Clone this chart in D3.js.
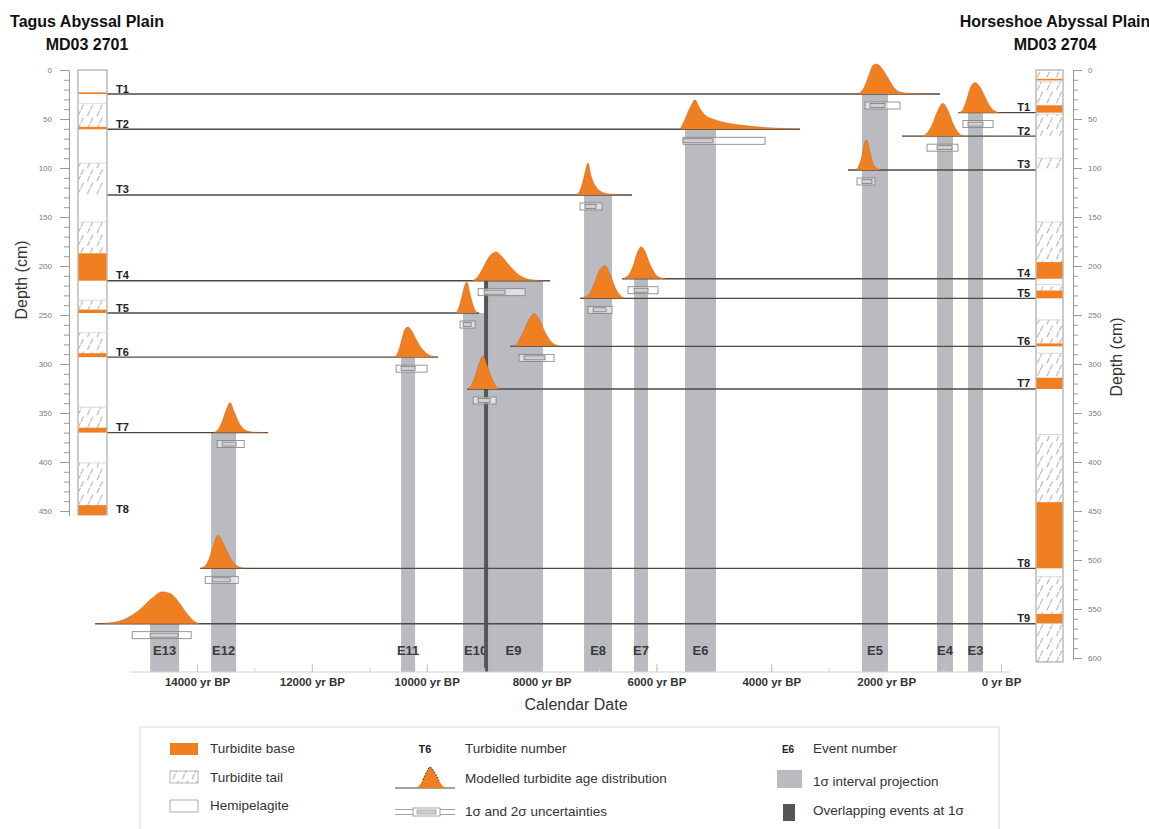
<!DOCTYPE html>
<html>
<head>
<meta charset="utf-8">
<script src="https://cdn.jsdelivr.net/npm/d3@7"></script>
<style>
  body { margin: 0; background: #fff; }
  svg { display: block; }
  text { font-family: "Liberation Sans", Arial, Helvetica, sans-serif; }
</style>
</head>
<body>
<svg id="chart" width="1149" height="829"></svg>
<script>
// ---------------- data ----------------
// Calendar age axis (yr BP)
const xTicks = [14000, 12000, 10000, 8000, 6000, 4000, 2000, 0];
const xTickLabels = ["14000 yr BP", "12000 yr BP", "10000 yr BP", "8000 yr BP",
                     "6000 yr BP", "4000 yr BP", "2000 yr BP", "0 yr BP"];

// Depth axes (cm)
const tagusDepthTicks = [0, 50, 100, 150, 200, 250, 300, 350, 400, 450];
const horseshoeDepthTicks = [0, 50, 100, 150, 200, 250, 300, 350, 400, 450, 500, 550, 600];

// Core logs: depth intervals (cm) of turbidite tails and bases
const tagusLayers = [
  { name: "T1", tail: null,          base: [22.8, 24.5] },
  { name: "T2", tail: [34, 58],      base: [58, 60.5] },
  { name: "T3", tail: [95, 127.5],   base: null },
  { name: "T4", tail: [155, 187],    base: [187, 215] },
  { name: "T5", tail: [235, 244.5],  base: [244.5, 248] },
  { name: "T6", tail: [268, 289],    base: [289, 293] },
  { name: "T7", tail: [344, 365],    base: [365, 370] },
  { name: "T8", tail: [401, 444],    base: [444, 454] }
];
const tagusCoreLength = 454;

const horseshoeLayers = [
  { name: "",   tail: [0, 9],        base: [9, 10] },
  { name: "T1", tail: [12, 36],      base: [36, 43.5] },
  { name: "T2", tail: [45, 67.5],    base: null },
  { name: "T3", tail: [90, 102],     base: null },
  { name: "T4", tail: [155, 196],    base: [196, 213] },
  { name: "T5", tail: [219, 225],    base: [225, 233] },
  { name: "T6", tail: [255, 279],    base: [279, 282] },
  { name: "T7", tail: [289, 314],    base: [314, 325.5] },
  { name: "T8", tail: [372, 441],    base: [441, 508.5] },
  { name: "T9", tail: [517, 555],    base: [555, 565] },
  { name: "",   tail: [565, 604],    base: null }
];
const horseshoeCoreLength = 604;

// Events and their 1-sigma age interval (yr BP, [young, old])
const eventNames = ["E3", "E4", "E5", "E6", "E7", "E8", "E9", "E10", "E11", "E12", "E13"];
const eventOneSigma = [
  [313, 575], [836, 1114], [1967, 2420], [4962, 5502], [6146, 6389], [6772, 7260],
  [7974, 9001], [8932, 9367], [10202, 10446], [13319, 13754], [14311, 14816]
];
const overlappingPair = ["E9", "E10"];

// Modelled turbidite age distributions: [age yr BP, relative density]
const ageModels = [
  { event: "E3", core: "right", turbidite: "T1", sigma1: [313, 575], sigma2: [139, 662],
    density: [[17,0],[104,0.05],[192,0.2],[279,0.5],[366,0.8],[453,0.94],[540,0.75],[609,0.35],[679,0.05],[749,0]] },
  { event: "E4", core: "right", turbidite: "T2", sigma1: [853, 1114], sigma2: [749, 1288],
    density: [[644,0],[749,0.12],[836,0.4],[923,0.8],[1010,1.03],[1114,0.75],[1201,0.35],[1288,0.1],[1375,0],[1724,0]] },
  { event: "E5", core: "left", turbidite: "T1", sigma1: [2020, 2281], sigma2: [1758, 2368],
    density: [[1062,0],[1584,0.02],[1758,0.06],[1863,0.2],[1967,0.5],[2072,0.8],[2159,0.94],[2228,0.9],[2298,0.6],[2385,0.2],[2490,0]] },
  { event: "E5", core: "right", turbidite: "T3", sigma1: [2246, 2420], sigma2: [2194, 2507],
    density: [[2072,0],[2159,0.05],[2228,0.2],[2281,0.55],[2333,0.94],[2368,0.9],[2420,0.45],[2472,0.15],[2542,0],[2664,0]] },
  { event: "E6", core: "left", turbidite: "T2", sigma1: [5014, 5536], sigma2: [4109, 5536],
    density: [[3499,0],[3674,0.015],[4022,0.05],[4370,0.1],[4718,0.18],[4979,0.3],[5153,0.45],[5258,0.7],[5327,0.92],[5380,0.8],[5449,0.55],[5519,0.25],[5589,0]] },
  { event: "E7", core: "right", turbidite: "T4", sigma1: [6146, 6389], sigma2: [5972, 6494],
    density: [[5798,0],[5902,0.02],[6006,0.12],[6111,0.45],[6198,0.85],[6268,1.0],[6337,0.8],[6407,0.4],[6494,0.1],[6598,0]] },
  { event: "E8", core: "left", turbidite: "T3", sigma1: [7051, 7243], sigma2: [6947, 7330],
    density: [[6424,0],[6860,0.04],[6981,0.12],[7068,0.3],[7138,0.6],[7190,1.0],[7225,0.85],[7277,0.45],[7330,0.15],[7399,0]] },
  { event: "E8", core: "right", turbidite: "T5", sigma1: [6877, 7103], sigma2: [6772, 7190],
    density: [[6546,0],[6633,0.1],[6720,0.35],[6807,0.75],[6894,1.03],[6999,0.85],[7086,0.45],[7190,0.1],[7330,0]] },
  { event: "E9", core: "left", turbidite: "T4", sigma1: [8635, 9001], sigma2: [8287, 9105],
    density: [[7852,0],[8113,0.02],[8270,0.07],[8409,0.2],[8548,0.45],[8688,0.75],[8792,0.9],[8862,0.85],[8949,0.65],[9036,0.35],[9123,0.1],[9210,0]] },
  { event: "E9", core: "right", turbidite: "T6", sigma1: [7939, 8305], sigma2: [7782, 8392],
    density: [[7643,0],[7730,0.03],[7835,0.15],[7939,0.45],[8043,0.85],[8130,1.03],[8200,0.9],[8270,0.65],[8357,0.3],[8444,0.05],[8548,0]] },
  { event: "E10", core: "left", turbidite: "T5", sigma1: [9227, 9367], sigma2: [9158, 9419],
    density: [[9088,0],[9140,0.05],[9192,0.25],[9245,0.6],[9297,0.97],[9332,0.9],[9384,0.55],[9436,0.2],[9488,0]] },
  { event: "E10", core: "right", turbidite: "T7", sigma1: [8897, 9105], sigma2: [8792, 9192],
    density: [[8722,0],[8809,0.12],[8879,0.4],[8949,0.75],[9018,1.03],[9088,0.8],[9158,0.4],[9227,0.1],[9297,0]] },
  { event: "E11", core: "left", turbidite: "T6", sigma1: [10202, 10446], sigma2: [9993, 10533],
    density: [[9802,0],[9941,0.05],[10063,0.22],[10167,0.5],[10254,0.8],[10324,0.94],[10376,0.88],[10429,0.6],[10481,0.25],[10550,0]] },
  { event: "E12", core: "left", turbidite: "T7", sigma1: [13319, 13562], sigma2: [13179, 13649],
    density: [[12762,0],[13040,0.02],[13162,0.08],[13266,0.3],[13353,0.65],[13423,0.94],[13493,0.7],[13562,0.35],[13632,0.1],[13719,0]] },
  { event: "E12", core: "right", turbidite: "T8", sigma1: [13423, 13736], sigma2: [13284, 13858],
    density: [[13145,0],[13249,0.03],[13353,0.15],[13458,0.45],[13545,0.8],[13632,1.03],[13719,0.7],[13789,0.3],[13858,0.08],[13945,0]] },
  { event: "E13", core: "right", turbidite: "T9", sigma1: [14328, 14816], sigma2: [14102, 15129],
    density: [[13945,0],[14050,0.08],[14189,0.35],[14328,0.7],[14468,0.95],[14607,1.0],[14781,0.8],[14990,0.45],[15251,0.15],[15512,0.03],[15773,0]] }
];

// Legend texts
const legendCol1 = ["Turbidite base", "Turbidite tail", "Hemipelagite"];
const legendCol2 = ["Turbidite number", "Modelled turbidite age distribution", "1\u03c3 and 2\u03c3 uncertainties"];
const legendCol3 = ["Event number", "1\u03c3 interval projection", "Overlapping events at 1\u03c3"];

// ---------------- drawing ----------------
const svg = d3.select("#chart");

const x = d3.scaleLinear().domain([0, 14000]).range([1001, 197]);
const y = d3.scaleLinear().domain([0, 600]).range([70, 658]);
const h = d3.scaleLinear().domain([0, 1]).range([0, 32]);

const AXIS_Y = 672;
const ORANGE = "#f07f22";
const BAR = "#b9bbc1";
const LINE = "#4a4a4a";

const cores = {
  left:  { x0: 78,   x1: 107,  length: tagusCoreLength,     layers: tagusLayers },
  right: { x0: 1036, x1: 1063, length: horseshoeCoreLength, layers: horseshoeLayers }
};

function markerDepth(layer) { return (layer.base || layer.tail)[1]; }
function turbiditeDepth(core, name) {
  return markerDepth(cores[core].layers.find(l => l.name === name));
}
function baseY(m) { return y(turbiditeDepth(m.core, m.turbidite)); }

// Tail hatch pattern
const defs = svg.append("defs");
const pat = defs.append("pattern").attr("id", "tailHatch")
  .attr("patternUnits", "userSpaceOnUse").attr("width", 9.5).attr("height", 13);
pat.append("path").attr("d", "M2.0,12.2 L4.3,6.8 M5.0,5.8 L7.3,0.6")
  .attr("stroke", "#959595").attr("stroke-width", 0.9).attr("fill", "none");

// --- 1 sigma interval projections (event bars) ---
const gBars = svg.append("g");
eventNames.forEach((name, i) => {
  const iv = eventOneSigma[i];
  const top = d3.min(ageModels.filter(m => m.event === name), baseY);
  gBars.append("rect")
    .attr("x", x(iv[1])).attr("width", x(iv[0]) - x(iv[1]))
    .attr("y", top).attr("height", AXIS_Y - top)
    .attr("fill", BAR);
  gBars.append("text")
    .attr("x", (x(iv[0]) + x(iv[1])) / 2).attr("y", 655)
    .attr("text-anchor", "middle").attr("font-size", 13).attr("font-weight", "bold")
    .attr("fill", "#3a3a3a").text(name);
});

// overlapping events at 1 sigma
{
  const a = eventOneSigma[eventNames.indexOf(overlappingPair[0])];
  const b = eventOneSigma[eventNames.indexOf(overlappingPair[1])];
  const young = Math.max(a[0], b[0]), old = Math.min(a[1], b[1]);
  const top = d3.min(ageModels.filter(m => overlappingPair.includes(m.event)), baseY);
  gBars.append("rect")
    .attr("x", x(old)).attr("width", x(young) - x(old))
    .attr("y", top).attr("height", AXIS_Y - top)
    .attr("fill", "#555");
}

// --- correlation lines from the cores to the age models ---
const gLines = svg.append("g");
ageModels.forEach(m => {
  const yy = baseY(m);
  const ages = m.density.map(d => d[0]);
  let x1, x2;
  if (m.core === "left") { x1 = cores.left.x1; x2 = x(d3.min(ages)); }
  else { x1 = x(d3.max(ages)); x2 = cores.right.x0; }
  gLines.append("line").attr("x1", x1).attr("x2", x2).attr("y1", yy).attr("y2", yy)
    .attr("stroke", LINE).attr("stroke-width", 1.4);
});

// --- modelled age distributions ---
const gDist = svg.append("g");
ageModels.forEach(m => {
  const yy = baseY(m);
  const pts = m.density.slice().sort((a, b) => x(a[0]) - x(b[0]));
  const area = d3.area().x(d => x(d[0])).y0(yy).y1(d => yy - h(d[1])).curve(d3.curveMonotoneX);
  const top = d3.line().x(d => x(d[0])).y(d => yy - h(d[1])).curve(d3.curveMonotoneX);
  gDist.append("path").attr("d", area(pts)).attr("fill", ORANGE);
  gDist.append("path").attr("d", top(pts)).attr("fill", "none")
    .attr("stroke", "#b9561a").attr("stroke-width", 0.6).attr("stroke-opacity", 0.6);
});

// --- 1 sigma and 2 sigma uncertainty boxes ---
const gBox = svg.append("g");
ageModels.forEach(m => {
  const yy = baseY(m) + 8;
  gBox.append("rect")
    .attr("x", x(m.sigma2[1])).attr("width", x(m.sigma2[0]) - x(m.sigma2[1]))
    .attr("y", yy).attr("height", 7)
    .attr("fill", "#fff").attr("fill-opacity", 0.55)
    .attr("stroke", "#7d7d7d").attr("stroke-width", 0.8);
  gBox.append("rect")
    .attr("x", x(m.sigma1[1])).attr("width", x(m.sigma1[0]) - x(m.sigma1[1]))
    .attr("y", yy + 1.5).attr("height", 4)
    .attr("fill", "#cfcfd2").attr("stroke", "#6f6f6f").attr("stroke-width", 0.7);
});

// --- core logs ---
function drawCore(c, side) {
  const g = svg.append("g");
  g.append("rect").attr("x", c.x0).attr("y", y(0))
    .attr("width", c.x1 - c.x0).attr("height", y(c.length) - y(0))
    .attr("fill", "#fff").attr("stroke", "#b0b0b0").attr("stroke-width", 1.3);
  c.layers.forEach(l => {
    if (l.tail) {
      g.append("rect").attr("x", c.x0 + 1).attr("width", c.x1 - c.x0 - 2)
        .attr("y", y(l.tail[0])).attr("height", y(l.tail[1]) - y(l.tail[0]))
        .attr("fill", "url(#tailHatch)");
      g.append("line").attr("x1", c.x0).attr("x2", c.x1)
        .attr("y1", y(l.tail[0])).attr("y2", y(l.tail[0]))
        .attr("stroke", "#d2d2d2").attr("stroke-width", 0.8);
    }
    if (l.base) {
      g.append("rect").attr("x", c.x0 + 0.5).attr("width", c.x1 - c.x0 - 1)
        .attr("y", y(l.base[0])).attr("height", Math.max(1.6, y(l.base[1]) - y(l.base[0])))
        .attr("fill", ORANGE);
    }
    if (l.name) {
      const d = markerDepth(l);
      g.append("text")
        .attr("x", side === "left" ? c.x1 + 9 : c.x0 - 6)
        .attr("y", y(d) - 1.5)
        .attr("text-anchor", side === "left" ? "start" : "end")
        .attr("font-size", 11).attr("font-weight", "bold").attr("fill", "#222")
        .text(l.name);
    }
  });
}
drawCore(cores.left, "left");
drawCore(cores.right, "right");

// --- depth axes ---
function depthAxis(xPos, ticks, length, side) {
  const s = y.copy().domain([0, length]).range([y(0), y(length)]);
  const g = svg.append("g").attr("transform", `translate(${xPos},0)`);
  const major = (side === "left" ? d3.axisLeft(s) : d3.axisRight(s))
    .tickValues(ticks).tickSize(9).tickSizeOuter(0).tickPadding(side === "left" ? 8 : 6);
  g.call(major);
  const minor = (side === "left" ? d3.axisLeft(s) : d3.axisRight(s))
    .tickValues(d3.range(0, length + 0.1, 10)).tickSize(5).tickSizeOuter(0).tickFormat("");
  g.append("g").call(minor).select(".domain").remove();
  g.selectAll("path.domain").attr("stroke", "#9a9a9a");
  g.selectAll("line").attr("stroke", "#9a9a9a");
  g.selectAll("text").attr("font-size", 8).attr("fill", "#7a7a7a")
    .style("font-family", "'Liberation Sans', Arial, sans-serif");
}
depthAxis(69, tagusDepthTicks, 455, "left");
depthAxis(1073, horseshoeDepthTicks, 602, "right");

svg.append("text").attr("transform", "translate(27,280) rotate(-90)")
  .attr("text-anchor", "middle").attr("font-size", 16).attr("fill", "#333").text("Depth (cm)");
svg.append("text").attr("transform", "translate(1122,357) rotate(-90)")
  .attr("text-anchor", "middle").attr("font-size", 16).attr("fill", "#333").text("Depth (cm)");

// --- calendar age axis ---
svg.append("line").attr("x1", 130).attr("x2", 1010).attr("y1", AXIS_Y).attr("y2", AXIS_Y)
  .attr("stroke", "#d0d0d0").attr("stroke-width", 1);
const gx = svg.append("g").attr("transform", `translate(0,${AXIS_Y})`);
gx.call(d3.axisBottom(x).tickValues(d3.range(0, 14001, 1000)).tickSize(-4).tickFormat(""))
  .select(".domain").remove();
gx.selectAll("line").attr("stroke", "#d0d0d0");
const gx2 = svg.append("g").attr("transform", `translate(0,${AXIS_Y})`);
gx2.call(d3.axisBottom(x).tickValues(xTicks).tickSize(-8).tickPadding(6)
  .tickFormat((d, i) => xTickLabels[i]))
  .select(".domain").remove();
gx2.selectAll("line").attr("stroke", "#c4c4c4");
gx2.selectAll("text").attr("font-size", 11.5).attr("font-weight", "bold").attr("fill", "#333")
  .style("font-family", "'Liberation Sans', Arial, sans-serif");

svg.append("text").attr("x", 576).attr("y", 710).attr("text-anchor", "middle")
  .attr("font-size", 16).attr("fill", "#333").text("Calendar Date");

// --- titles ---
svg.append("text").attr("x", 87).attr("y", 27).attr("text-anchor", "middle")
  .attr("font-size", 16).attr("font-weight", "bold").attr("fill", "#111").text("Tagus Abyssal Plain");
svg.append("text").attr("x", 87).attr("y", 50).attr("text-anchor", "middle")
  .attr("font-size", 16).attr("font-weight", "bold").attr("fill", "#111").text("MD03 2701");
svg.append("text").attr("x", 1055).attr("y", 27).attr("text-anchor", "middle")
  .attr("font-size", 16).attr("font-weight", "bold").attr("fill", "#111").text("Horseshoe Abyssal Plain");
svg.append("text").attr("x", 1055).attr("y", 50).attr("text-anchor", "middle")
  .attr("font-size", 16).attr("font-weight", "bold").attr("fill", "#111").text("MD03 2704");

// --- legend ---
const lg = svg.append("g");
lg.append("path").attr("d", "M140,829 L140,727 L999,727 L999,829")
  .attr("fill", "none").attr("stroke", "#dcdcdc").attr("stroke-width", 1.2);

const col1Y = [753, 782, 810], col2Y = [753, 783, 816], col3Y = [753, 786, 815];
function legendText(xp, yp, t) {
  lg.append("text").attr("x", xp).attr("y", yp).attr("font-size", 13.5).attr("fill", "#333").text(t);
}
legendCol1.forEach((t, i) => legendText(210, col1Y[i], t));
legendCol2.forEach((t, i) => legendText(465, col2Y[i], t));
legendCol3.forEach((t, i) => legendText(813, col3Y[i], t));

// column 1 swatches
lg.append("rect").attr("x", 170).attr("y", 743).attr("width", 28).attr("height", 12).attr("fill", ORANGE);
lg.append("rect").attr("x", 170).attr("y", 771).attr("width", 28).attr("height", 12)
  .attr("fill", "url(#tailHatch)").attr("stroke", "#a0a0a0").attr("stroke-width", 0.8);
lg.append("rect").attr("x", 170).attr("y", 800).attr("width", 28).attr("height", 12)
  .attr("fill", "#fff").attr("stroke", "#9a9a9a").attr("stroke-width", 0.8);

// column 2 symbols
lg.append("text").attr("x", 425).attr("y", 753).attr("text-anchor", "middle")
  .attr("font-size", 11).attr("font-weight", "bold").attr("fill", "#222").text("T6");
{
  const base = 788, cx = 430;
  const shape = [[-17,0],[-12,0.05],[-7,0.4],[-3,0.8],[0,1],[4,0.8],[9,0.35],[14,0.05],[18,0]];
  const ar = d3.area().x(d => cx + d[0]).y0(base).y1(d => base - d[1] * 21).curve(d3.curveMonotoneX);
  const ln = d3.line().x(d => cx + d[0]).y(d => base - d[1] * 21).curve(d3.curveMonotoneX);
  lg.append("line").attr("x1", 395).attr("x2", 455).attr("y1", base).attr("y2", base)
    .attr("stroke", LINE).attr("stroke-width", 1.2);
  lg.append("path").attr("d", ar(shape)).attr("fill", ORANGE);
  lg.append("path").attr("d", ln(shape.slice(2, 7))).attr("fill", "none")
    .attr("stroke", "#222").attr("stroke-width", 1).attr("stroke-dasharray", "1.5,1.5");
}
{
  const yy = 812;
  lg.append("line").attr("x1", 395).attr("x2", 455).attr("y1", yy - 2.5).attr("y2", yy - 2.5)
    .attr("stroke", "#8a8a8a").attr("stroke-width", 0.8);
  lg.append("line").attr("x1", 395).attr("x2", 455).attr("y1", yy + 2.5).attr("y2", yy + 2.5)
    .attr("stroke", "#8a8a8a").attr("stroke-width", 0.8);
  lg.append("rect").attr("x", 413).attr("y", yy - 4).attr("width", 27).attr("height", 8)
    .attr("fill", "#fff").attr("stroke", "#8a8a8a").attr("stroke-width", 0.8);
  lg.append("rect").attr("x", 417).attr("y", yy - 2).attr("width", 19).attr("height", 4)
    .attr("fill", "#cfcfd2").attr("stroke", "#8a8a8a").attr("stroke-width", 0.6);
}

// column 3 symbols
lg.append("text").attr("x", 788).attr("y", 753).attr("text-anchor", "middle")
  .attr("font-size", 10).attr("font-weight", "bold").attr("fill", "#222").text("E6");
lg.append("rect").attr("x", 777).attr("y", 770).attr("width", 25).attr("height", 18).attr("fill", BAR);
lg.append("rect").attr("x", 783).attr("y", 804).attr("width", 12).attr("height", 17).attr("fill", "#555");
</script>
</body>
</html>
